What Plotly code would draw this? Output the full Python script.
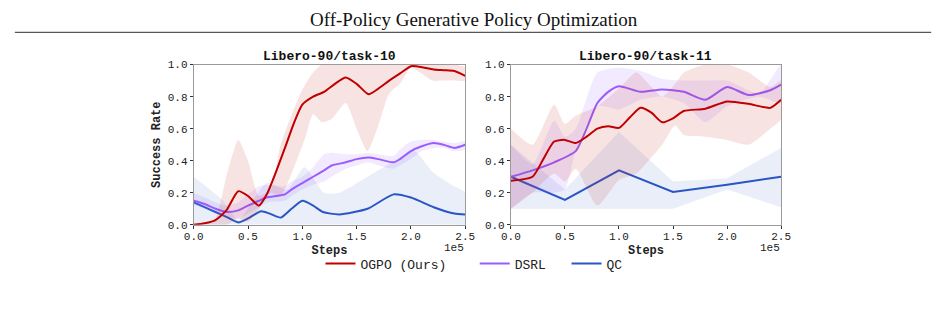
import plotly.graph_objects as go

# ---------------- data (x in units of 1e5 steps) ----------------
# Left: Libero-90/task-10
L_ogpo_x = [0, 0.1, 0.2, 0.3, 0.41, 0.5, 0.6, 0.68, 0.84, 0.92, 1.0, 1.1, 1.2, 1.3, 1.4, 1.5, 1.61, 1.7, 1.8, 1.9, 2.0, 2.05, 2.21, 2.3, 2.4, 2.5]
L_ogpo_y = [0.0, 0.01, 0.03, 0.09, 0.21, 0.18, 0.12, 0.2, 0.48, 0.63, 0.75, 0.8, 0.83, 0.88, 0.92, 0.88, 0.815, 0.85, 0.9, 0.945, 0.99, 0.99, 0.97, 0.965, 0.96, 0.93]
L_ogpo_bx = [0, 0.19, 0.3, 0.41, 0.5, 0.6, 0.71, 0.8, 0.97, 1.03, 1.1, 1.18, 1.27, 1.4, 1.5, 1.6, 1.7, 1.8, 1.9, 2.0, 2.2, 2.3, 2.4, 2.5]
L_ogpo_hi = [0.0, 0.03, 0.3, 0.53, 0.4, 0.18, 0.22, 0.5, 0.8, 0.88, 0.95, 1.0, 1.0, 1.0, 1.0, 1.0, 1.0, 1.0, 1.0, 1.0, 1.0, 1.0, 1.0, 0.98]
L_ogpo_lo = [0.0, 0.0, 0.0, 0.04, 0.02, 0.1, 0.2, 0.18, 0.44, 0.55, 0.69, 0.64, 0.66, 0.76, 0.6, 0.46, 0.62, 0.82, 0.88, 0.98, 0.9, 0.9, 0.9, 0.9]

L_dsrl_x = [0, 0.1, 0.2, 0.3, 0.41, 0.5, 0.6, 0.67, 0.84, 0.9, 1.0, 1.1, 1.2, 1.27, 1.4, 1.5, 1.61, 1.7, 1.84, 1.9, 2.0, 2.1, 2.21, 2.3, 2.4, 2.5]
L_dsrl_y = [0.15, 0.13, 0.1, 0.08, 0.09, 0.12, 0.15, 0.17, 0.19, 0.22, 0.26, 0.3, 0.34, 0.37, 0.39, 0.41, 0.42, 0.41, 0.39, 0.41, 0.46, 0.49, 0.51, 0.5, 0.48, 0.5]
L_dsrl_hi = [0.2, 0.17, 0.14, 0.12, 0.14, 0.19, 0.24, 0.25, 0.24, 0.27, 0.3, 0.36, 0.44, 0.45, 0.44, 0.44, 0.45, 0.44, 0.43, 0.47, 0.52, 0.53, 0.53, 0.52, 0.51, 0.52]
L_dsrl_lo = [0.12, 0.1, 0.07, 0.05, 0.04, 0.07, 0.11, 0.14, 0.15, 0.18, 0.22, 0.25, 0.27, 0.3, 0.35, 0.37, 0.39, 0.37, 0.35, 0.37, 0.41, 0.46, 0.48, 0.48, 0.46, 0.47]

L_qc_x = [0, 0.1, 0.2, 0.3, 0.41, 0.5, 0.62, 0.7, 0.8, 0.9, 1.0, 1.1, 1.19, 1.34, 1.6, 1.84, 2.0, 2.21, 2.4, 2.5]
L_qc_y = [0.14, 0.11, 0.08, 0.05, 0.015, 0.04, 0.085, 0.07, 0.045, 0.1, 0.15, 0.12, 0.08, 0.065, 0.1, 0.19, 0.17, 0.11, 0.07, 0.065]
L_qc_bx = [0, 0.27, 0.41, 0.67, 0.86, 1.02, 1.2, 1.34, 1.6, 1.8, 2.03, 2.2, 2.4, 2.5]
L_qc_hi = [0.3, 0.15, 0.03, 0.26, 0.22, 0.36, 0.2, 0.2, 0.3, 0.38, 0.46, 0.33, 0.24, 0.2]
L_qc_lo = [0.0, 0.0, 0.0, 0.0, 0.0, 0.0, 0.0, 0.0, 0.0, 0.0, 0.0, 0.0, 0.0, 0.0]

# Right: Libero-90/task-11
R_ogpo_x = [0, 0.2, 0.3, 0.4, 0.5, 0.6, 0.7, 0.8, 0.9, 1.0, 1.1, 1.2, 1.3, 1.4, 1.5, 1.6, 1.8, 2.0, 2.2, 2.4, 2.5]
R_ogpo_y = [0.275, 0.3, 0.41, 0.52, 0.53, 0.51, 0.55, 0.6, 0.615, 0.605, 0.67, 0.73, 0.7, 0.64, 0.665, 0.71, 0.725, 0.77, 0.755, 0.73, 0.78]
R_ogpo_bx = [0, 0.2, 0.4, 0.5, 0.6, 0.8, 1.0, 1.16, 1.3, 1.4, 1.52, 1.6, 1.8, 2.0, 2.2, 2.4, 2.5]
R_ogpo_hi = [0.6, 0.5, 0.75, 0.63, 0.68, 0.74, 0.85, 0.95, 0.86, 0.8, 0.88, 0.95, 1.0, 1.0, 0.95, 0.86, 0.9]
R_ogpo_lo = [0.1, 0.2, 0.32, 0.27, 0.35, 0.12, 0.28, 0.32, 0.42, 0.5, 0.62, 0.56, 0.55, 0.53, 0.5, 0.6, 0.66]

R_dsrl_x = [0, 0.2, 0.4, 0.6, 0.7, 0.8, 0.9, 1.0, 1.2, 1.4, 1.6, 1.8, 2.0, 2.2, 2.4, 2.5]
R_dsrl_y = [0.3, 0.34, 0.39, 0.46, 0.6, 0.76, 0.83, 0.865, 0.83, 0.845, 0.83, 0.78, 0.86, 0.81, 0.84, 0.875]
R_dsrl_bx = [0, 0.2, 0.4, 0.5, 0.6, 0.8, 1.0, 1.2, 1.4, 1.6, 1.8, 2.0, 2.3, 2.5]
R_dsrl_hi = [0.5, 0.38, 0.65, 0.55, 0.6, 0.95, 0.98, 0.96, 0.91, 0.9, 0.9, 0.9, 0.82, 1.0]
R_dsrl_lo = [0.1, 0.2, 0.2, 0.22, 0.46, 0.74, 0.72, 0.78, 0.8, 0.76, 0.64, 0.74, 0.8, 0.76]

R_qc_x = [0, 0.5, 1.0, 1.5, 2.0, 2.5]
R_qc_y = [0.3, 0.155, 0.34, 0.205, 0.25, 0.3]
R_qc_hi = [0.5, 0.22, 0.58, 0.27, 0.29, 0.48]
R_qc_lo = [0.1, 0.1, 0.1, 0.1, 0.22, 0.11]

COLORS = {"OGPO (Ours)": "#c00000", "DSRL": "#9b5cff", "QC": "#2a55c4"}
FILLS = {"OGPO (Ours)": "rgba(200,40,40,0.13)", "DSRL": "rgba(155,92,255,0.13)", "QC": "rgba(42,85,196,0.10)"}
MONO = "Liberation Mono, Courier New, monospace"
NB = "\u00a0"
LEGEND_NAMES = {"OGPO (Ours)": "OGPO (Ours)" + NB * 3, "DSRL": "DSRL" + NB * 2, "QC": "QC"}

fig = go.Figure()

def add(name, x, y, bx, hi, lo, xa, ya, legend, shape="spline"):
    fig.add_trace(go.Scatter(x=list(bx) + list(bx)[::-1], y=list(hi) + list(lo)[::-1],
                             fill="toself", fillcolor=FILLS[name], line=dict(width=0, shape=shape, smoothing=0.6),
                             mode="lines", hoverinfo="skip", showlegend=False, xaxis=xa, yaxis=ya))
    fig.add_trace(go.Scatter(x=x, y=y, mode="lines", name=LEGEND_NAMES[name],
                             line=dict(color=COLORS[name], width=2, shape=shape, smoothing=0.6),
                             showlegend=legend, legendrank={"OGPO (Ours)": 1, "DSRL": 2, "QC": 3}[name],
                             xaxis=xa, yaxis=ya))

add("QC", L_qc_x, L_qc_y, L_qc_bx, L_qc_hi, L_qc_lo, "x", "y", False)
add("DSRL", L_dsrl_x, L_dsrl_y, L_dsrl_x, L_dsrl_hi, L_dsrl_lo, "x", "y", False)
add("OGPO (Ours)", L_ogpo_x, L_ogpo_y, L_ogpo_bx, L_ogpo_hi, L_ogpo_lo, "x", "y", True)
add("QC", R_qc_x, R_qc_y, R_qc_x, R_qc_hi, R_qc_lo, "x2", "y2", True, shape="linear")
add("DSRL", R_dsrl_x, R_dsrl_y, R_dsrl_bx, R_dsrl_hi, R_dsrl_lo, "x2", "y2", True)
add("OGPO (Ours)", R_ogpo_x, R_ogpo_y, R_ogpo_bx, R_ogpo_hi, R_ogpo_lo, "x2", "y2", False)

W, H = 948, 309
def px(v): return v / W
def py(v): return 1 - v / H

ax_common = dict(range=[0, 2.5], tickvals=[0, 0.5, 1.0, 1.5, 2.0, 2.5], ticktext=["0.0", "0.5", "1.0", "1.5", "2.0", "2.5"],
                 showline=True, linecolor="#9a9a9a", linewidth=1, mirror=True, ticks="outside", ticklen=3,
                 ticklabelstandoff=-2,
                 tickcolor="#333", tickfont=dict(family=MONO, size=11, color="#222"), showgrid=False, zeroline=False,
                 title=dict(text="<b>Steps</b>", font=dict(family=MONO, size=12, color="#222"), standoff=3))
ay_common = dict(range=[0, 1.0], tickvals=[0, 0.2, 0.4, 0.6, 0.8, 1.0], ticktext=["0.0", "0.2", "0.4", "0.6", "0.8", "1.0"],
                 showline=True, linecolor="#9a9a9a", linewidth=1, mirror=True, ticks="outside", ticklen=3,
                 tickcolor="#333", tickfont=dict(family=MONO, size=11, color="#222"), showgrid=False, zeroline=False)

fig.update_layout(
    width=W, height=H, margin=dict(l=0, r=0, t=0, b=0),
    paper_bgcolor="white", plot_bgcolor="white",
    xaxis=dict(domain=[px(187.7), px(465)], anchor="y", **ax_common),
    yaxis=dict(domain=[py(228.7), py(62)], anchor="x",
               title=dict(text="<b>Success Rate</b>", font=dict(family=MONO, size=12, color="#222"), standoff=4),
               **ay_common),
    xaxis2=dict(domain=[px(511.7), px(787.7)], anchor="y2", **ax_common),
    yaxis2=dict(domain=[py(228.7), py(62)], anchor="x2", **ay_common),
    legend=dict(orientation="h", x=0.5, xanchor="center", y=py(269), yanchor="middle",
                font=dict(family=MONO, size=13, color="#222"), bgcolor="rgba(0,0,0,0)",
                traceorder="normal", itemwidth=30),
    showlegend=True,
)

fig.add_annotation(text="Off-Policy Generative Policy Optimization", x=0.5, y=py(15), xref="paper", yref="paper",
                   showarrow=False, font=dict(family="Liberation Serif, DejaVu Serif, serif", size=19, color="#111"),
                   xanchor="center", yanchor="middle")
fig.add_shape(type="line", x0=px(5), x1=px(941), y0=py(28.5), y1=py(28.5), xref="paper", yref="paper",
              line=dict(color="#555", width=1.3))
for xc, title in [((187.7 + 465) / 2, "Libero-90/task-10"), ((511.7 + 787.7) / 2, "Libero-90/task-11")]:
    fig.add_annotation(text="<b>" + title + "</b>", x=px(xc), y=py(54), xref="paper", yref="paper", showarrow=False,
                       font=dict(family=MONO, size=13, color="#111"), xanchor="center", yanchor="middle")
for xr in [465, 787.7]:
    fig.add_annotation(text="1e5", x=px(xr), y=py(253), xref="paper", yref="paper", showarrow=False,
                       font=dict(family=MONO, size=11, color="#222"), xanchor="right", yanchor="middle", borderpad=0)

fig.write_html("out.html")
